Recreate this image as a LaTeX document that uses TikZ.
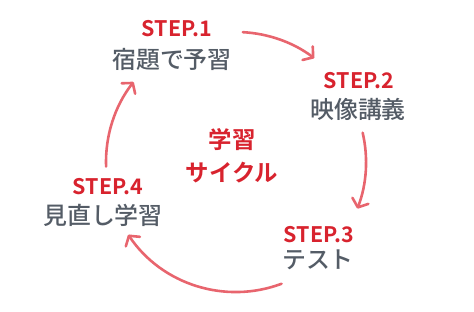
\documentclass[tikz,border=0pt]{standalone}
\usepackage{fontspec}
\setmainfont{Noto Sans CJK JP}[BoldFont={* Bold}]
\newfontfamily\medfont{Noto Sans CJK JP Medium}
\usetikzlibrary{arrows.meta}
\definecolor{stepred}{HTML}{D8232E}
\definecolor{arrowred}{HTML}{E8656E}
\definecolor{txtgray}{HTML}{545C66}
\begin{document}
\begin{tikzpicture}[x=1bp,y=1bp,
  steplab/.style={inner sep=0pt, text=stepred, font=\fontsize{21.5}{21.5}\selectfont\bfseries},
  steptxt/.style={inner sep=0pt, text=txtgray, font=\fontsize{24}{24}\medfont},
  centertxt/.style={inner sep=0pt, text=stepred, font=\fontsize{23.5}{23.5}\selectfont\bfseries},
  cyc/.style={draw=arrowred, line width=2.6bp, line cap=round,
    -{Straight Barb[length=7bp,width=17bp,line width=2.6bp,round]}}]
\useasboundingbox (0,0) rectangle (474,311);
\coordinate (c) at (236,149);
\node[steplab] (s1lab) at (177,282) {STEP.1};
\node[steptxt] (s1txt) at (172,252) {宿題で予習};
\node[steplab] (s2lab) at (359,230) {STEP.2};
\node[steptxt] (s2txt) at (358,202) {映像講義};
\node[steplab] (s3lab) at (319,76) {STEP.3};
\node[steptxt] (s3txt) at (318,51) {テスト};
\node[steplab] (s4lab) at (108,124) {STEP.4};
\node[steptxt] (s4txt) at (103,96) {見直し学習};
\node[centertxt] (cA) at (232,171) {学習};
\node[centertxt] (cB) at (232,138) {サイクル};
\draw[cyc] ([shift={(87:130)}]c) arc[start angle=87, end angle=53, radius=130];
\draw[cyc] ([shift={(13:130)}]c) arc[start angle=13, end angle=-21, radius=130];
\draw[cyc] ([shift={(-69.5:130)}]c) arc[start angle=-69.5, end angle=-146, radius=130];
\draw[cyc] ([shift={(182:130)}]c) arc[start angle=182, end angle=142, radius=130];
\end{tikzpicture}
\end{document}
